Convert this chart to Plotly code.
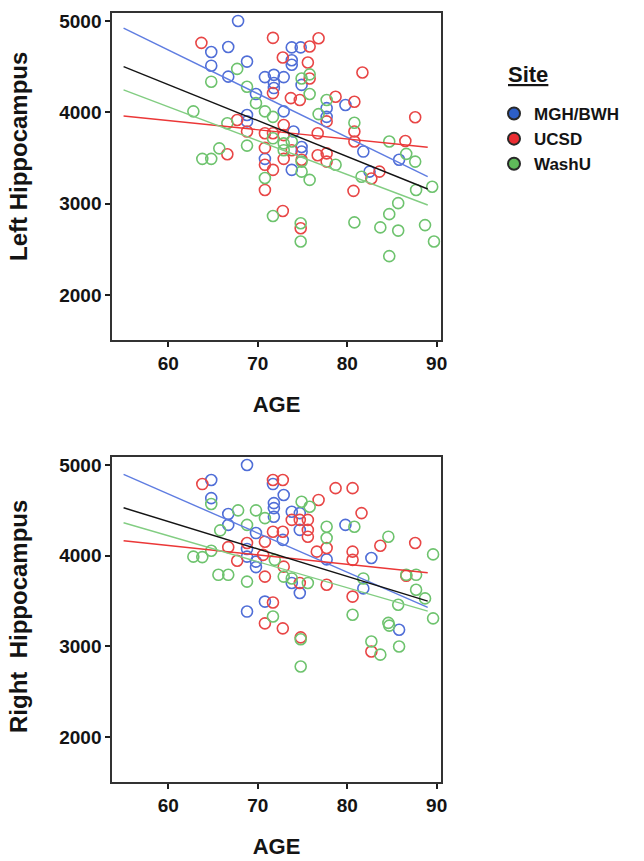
import plotly.graph_objects as go

# ---------------- data ----------------
SITES = ["MGH/BWH", "UCSD", "WashU"]

# Left hippocampus
L_MGH_AGE = [67.8, 64.8, 66.7, 73.8, 74.8, 64.8, 68.8, 73.8, 73.8, 66.7, 70.8, 71.8, 72.9, 74.9, 71.8, 71.8,
             69.8, 77.7, 77.7, 72.9, 68.8, 68.8, 74.0, 74.9, 74.9, 70.8, 73.8, 79.8, 81.8, 85.8, 82.5]
L_MGH_VAL = [5000, 4660, 4715, 4710, 4710, 4510, 4555, 4570, 4520, 4390, 4385, 4410, 4385, 4300, 4320, 4265,
             4200, 4045, 3950, 4010, 3970, 3900, 3790, 3620, 3570, 3490, 3370, 4080, 3570, 3480, 3350]

L_UCSD_AGE = [63.7, 71.7, 75.8, 76.8, 72.8, 75.6, 75.8, 71.7, 73.7, 74.7, 78.7, 77.7, 67.7, 68.8, 70.8, 71.7,
              72.9, 72.9, 73.8, 74.9, 76.7, 76.7, 77.7, 77.7, 66.6, 70.8, 70.8, 70.8, 71.7, 72.9, 72.8, 74.8,
              80.8, 81.7, 87.6, 80.8, 80.8, 86.5, 82.7, 83.6, 80.7]
L_UCSD_VAL = [4760, 4815, 4720, 4810, 4600, 4545, 4370, 4210, 4155, 4135, 4170, 3900, 3915, 3790, 3770, 3770,
              3860, 3750, 3585, 3480, 3770, 3530, 3550, 3460, 3540, 3610, 3425, 3150, 3370, 3490, 2920, 2730,
              4115, 4435, 3945, 3790, 3680, 3685, 3275, 3350, 3140]

L_WASHU_AGE = [67.7, 64.8, 74.9, 75.8, 68.8, 69.8, 75.8, 77.7, 76.8, 62.8, 70.8, 71.7, 66.6, 68.8, 71.7, 72.9,
               72.9, 73.8, 74.9, 78.7, 63.8, 64.8, 65.7, 70.8, 74.9, 75.8, 71.7, 74.8, 74.8, 80.8, 84.7, 86.6,
               87.6, 81.6, 87.7, 89.5, 85.7, 84.7, 80.8, 83.7, 85.7, 88.7, 89.7, 84.7]
L_WASHU_VAL = [4475, 4335, 4370, 4415, 4280, 4100, 4200, 4135, 3980, 4010, 4010, 3950, 3880, 3635, 3715, 3660,
               3585, 3680, 3460, 3425, 3490, 3490, 3605, 3280, 3350, 3260, 2865, 2785, 2585, 3885, 3680, 3545,
               3460, 3295, 3150, 3185, 3005, 2885, 2795, 2740, 2705, 2765, 2585, 2425]

# Right hippocampus
R_MGH_AGE = [68.8, 64.8, 71.7, 72.9, 64.8, 71.8, 71.8, 66.7, 71.8, 66.7, 73.8, 74.7, 74.7, 77.7, 69.8, 72.8,
             68.8, 68.8, 69.8, 69.8, 73.8, 74.7, 70.8, 68.8, 79.8, 82.7, 81.8, 85.8]
R_MGH_VAL = [5000, 4835, 4790, 4670, 4635, 4580, 4525, 4460, 4430, 4340, 4485, 4470, 4285, 3960, 4250, 4175,
             4075, 3990, 3935, 3875, 3700, 3590, 3495, 3385, 4340, 3975, 3640, 3185]

R_UCSD_AGE = [63.8, 71.7, 72.8, 78.7, 76.8, 73.8, 74.7, 75.6, 75.6, 75.6, 77.7, 76.6, 71.7, 72.8, 70.8, 66.7,
              68.8, 67.7, 70.6, 70.8, 72.9, 74.7, 77.7, 71.7, 70.8, 72.8, 74.8, 80.6, 81.6, 83.7, 87.6, 80.6,
              80.6, 80.6, 86.6, 82.7]
R_UCSD_VAL = [4790, 4835, 4835, 4745, 4615, 4395, 4395, 4395, 4285, 4210, 4085, 4045, 4265, 4265, 4155, 4095,
              4140, 3945, 4010, 3770, 3880, 3700, 3680, 3485, 3255, 3200, 3100, 4745, 4470, 4110, 4140, 4045,
              3955, 3550, 3780, 2945]

R_WASHU_AGE = [64.8, 74.9, 75.8, 67.8, 69.8, 70.8, 77.7, 77.7, 65.8, 68.8, 62.8, 63.8, 64.8, 65.6, 66.7, 68.8,
               72.9, 73.8, 75.6, 71.9, 71.7, 74.8, 74.8, 80.8, 84.6, 89.6, 81.8, 80.6, 86.6, 87.7, 87.7, 85.7,
               88.7, 89.6, 84.6, 84.7, 82.7, 83.7, 85.8]
R_WASHU_VAL = [4570, 4595, 4540, 4500, 4500, 4415, 4320, 4195, 4280, 4340, 3990, 3985, 4055, 3790, 3790, 3715,
               3770, 3750, 3700, 3955, 3330, 3080, 2780, 4320, 4210, 4015, 3750, 3350, 3790, 3790, 3625, 3460,
               3530, 3310, 3260, 3230, 3055, 2910, 3000]

# Fit lines (start/end ages and fitted values)
FIT_AGE = [55, 89]
L_FIT = {"MGH/BWH": [4920, 3295], "UCSD": [3960, 3617], "WashU": [4245, 2985], "Total": [4500, 3160]}
R_FIT = {"MGH/BWH": [4897, 3430], "UCSD": [4165, 3812], "WashU": [4364, 3390], "Total": [4529, 3500]}

X_TICKS = [60, 70, 80, 90]
Y_TICKS = [2000, 3000, 4000, 5000]

# ---------------- style ----------------
PT_COL = {"MGH/BWH": "rgb(80,110,215)", "UCSD": "rgb(232,70,70)", "WashU": "rgb(110,195,110)"}
LN_COL = {"MGH/BWH": "rgb(95,125,225)", "UCSD": "rgb(235,55,55)", "WashU": "rgb(130,205,130)", "Total": "rgb(20,20,20)"}
LG_COL = {"MGH/BWH": "rgb(45,95,200)", "UCSD": "rgb(235,45,50)", "WashU": "rgb(95,185,90)"}
FONT = "Arial, Liberation Sans, sans-serif"

fig = go.Figure()

panels = [
    ("x", "y", {"MGH/BWH": (L_MGH_AGE, L_MGH_VAL), "UCSD": (L_UCSD_AGE, L_UCSD_VAL), "WashU": (L_WASHU_AGE, L_WASHU_VAL)}, L_FIT),
    ("x2", "y2", {"MGH/BWH": (R_MGH_AGE, R_MGH_VAL), "UCSD": (R_UCSD_AGE, R_UCSD_VAL), "WashU": (R_WASHU_AGE, R_WASHU_VAL)}, R_FIT),
]

for xa, ya, pts, fits in panels:
    for s in SITES:
        ax, vv = pts[s]
        fig.add_trace(go.Scatter(x=ax, y=vv, mode="markers", xaxis=xa, yaxis=ya, showlegend=False,
                                 marker=dict(symbol="circle-open", size=11, color=PT_COL[s], line=dict(width=1.6))))
    for s in SITES + ["Total"]:
        fig.add_trace(go.Scatter(x=FIT_AGE, y=fits[s], mode="lines", xaxis=xa, yaxis=ya, showlegend=False,
                                 line=dict(color=LN_COL[s], width=1.4)))

# legend entries
for s in SITES:
    fig.add_trace(go.Scatter(x=[None], y=[None], mode="markers", name=s, showlegend=True,
                             marker=dict(symbol="circle", size=13, color=LG_COL[s],
                                         line=dict(color="rgb(40,40,40)", width=1.2))))

xr = [53.74, 90.45]
axis_common = dict(showline=True, linecolor="rgb(50,50,50)", linewidth=2, mirror=True, showgrid=False,
                   zeroline=False, ticks="outside", ticklen=5, tickwidth=2, tickcolor="rgb(30,30,30)",
                   automargin=False,
                   tickfont=dict(family=FONT, size=19, color="rgb(20,20,20)", weight="bold"))
title_font = dict(family=FONT, size=22, color="rgb(20,20,20)", weight="bold")
ytitle_font = dict(family=FONT, size=24, color="rgb(20,20,20)", weight="bold")

fig.update_layout(
    width=644, height=861, margin=dict(l=0, r=0, t=0, b=0, autoexpand=False),
    paper_bgcolor="white", plot_bgcolor="white",
    font=dict(family=FONT, color="rgb(20,20,20)"),
    xaxis=dict(domain=[0.1744, 0.6843], range=xr, tickvals=X_TICKS, anchor="y",
               title=dict(text="AGE", font=title_font, standoff=24), **axis_common),
    yaxis=dict(domain=[0.6051, 0.9846], range=[1507, 5084], tickvals=Y_TICKS, anchor="x", **axis_common),
    xaxis2=dict(domain=[0.1744, 0.6843], range=xr, tickvals=X_TICKS, anchor="y2",
                title=dict(text="AGE", font=title_font, standoff=24), **axis_common),
    yaxis2=dict(domain=[0.0921, 0.4692], range=[1510, 5088], tickvals=Y_TICKS, anchor="x2", **axis_common),
    legend=dict(x=494 / 644, y=1 - 96 / 861, xanchor="left", yanchor="top", bgcolor="rgba(0,0,0,0)",
                font=dict(size=17, family=FONT, color="rgb(20,20,20)", weight="bold"), itemsizing="constant",
                tracegroupgap=0),
    annotations=[
        dict(text="<u>Site</u>", x=506 / 644, y=1 - 75 / 861, xref="paper", yref="paper",
             xanchor="left", yanchor="middle", showarrow=False,
             font=dict(family=FONT, size=22, color="rgb(20,20,20)", weight="bold")),
        dict(text="Left Hippocampus", textangle=-90, x=18 / 644, y=1 - 157 / 861, xref="paper", yref="paper",
             xanchor="center", yanchor="middle", showarrow=False, font=ytitle_font),
        dict(text="Right  Hippocampus", textangle=-90, x=18 / 644, y=1 - 617 / 861, xref="paper", yref="paper",
             xanchor="center", yanchor="middle", showarrow=False, font=ytitle_font),
    ],
)

fig.write_html("out.html", config={"displayModeBar": False},
               post_script="document.body.style.margin='0';document.body.style.padding='0';")
